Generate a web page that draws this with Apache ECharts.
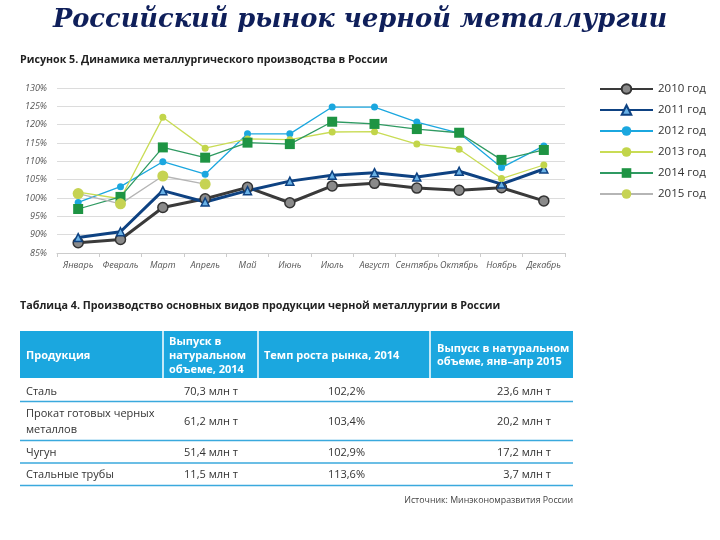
<!DOCTYPE html>
<html><head><meta charset="utf-8">
<script src="https://cdn.jsdelivr.net/npm/echarts@6/dist/echarts.min.js"></script>
<style>html,body{margin:0;padding:0;background:#fff}#c{width:720px;height:540px}</style>
</head><body><div id="c"></div>
<script>
// ---- chart data ----
const months = ['Январь','Февраль','Март','Апрель','Май','Июнь','Июль','Август','Сентябрь','Октябрь','Ноябрь','Декабрь'];
const y2010 = [87.8, 88.7, 97.4, 99.8, 102.9, 98.7, 103.3, 104.0, 102.7, 102.1, 102.8, 99.2];
const y2011 = [89.2, 90.8, 102.0, 98.9, 102.0, 104.6, 106.2, 106.9, 105.7, 107.3, 103.8, 107.9];
const y2012 = [98.8, 103.1, 109.9, 106.5, 117.5, 117.5, 124.8, 124.8, 120.7, 117.7, 108.3, 114.2];
const y2013 = [101.6, 99.8, 122.0, 113.6, 116.1, 115.9, 118.0, 118.1, 114.7, 113.3, 105.3, 109.0];
const y2014 = [97.0, 100.3, 113.8, 111.0, 115.1, 114.7, 120.8, 120.2, 118.8, 117.8, 110.4, 113.1];
const y2015 = [101.2, 98.4, 106.0, 103.8];
const seriesNames = ['2010 год','2011 год','2012 год','2013 год','2014 год','2015 год'];

// ---- table data ----
const tableHeaders = ['Продукция', 'Выпуск в\nнатуральном\nобъеме, 2014', 'Темп роста рынка, 2014', 'Выпуск в натуральном\nобъеме, янв–апр 2015'];
const products = ['Сталь', 'Прокат готовых черных\nметаллов', 'Чугун', 'Стальные трубы'];
const output2014 = ['70,3 млн т', '61,2 млн т', '51,4 млн т', '11,5 млн т'];
const growth2014 = ['102,2%', '103,4%', '102,9%', '113,6%'];
const output2015 = ['23,6 млн т', '20,2 млн т', '17,2 млн т', '3,7 млн т'];

const chart = echarts.init(document.getElementById('c'));
const SANS = '"Open Sans", "Noto Sans", sans-serif';
const blue = '#1ba7df';

// table graphic
const g = [];
const tx = 20, tw = 553, hy = 331, hh = 47;
g.push({type:'rect', shape:{x:tx, y:hy, width:tw, height:hh}, style:{fill:blue}});
[163, 258, 430].forEach(x => g.push({type:'line', shape:{x1:x, y1:hy, x2:x, y2:hy+hh}, style:{stroke:'#fff', lineWidth:1.5}}));
const headerX = [26, 169, 264, 437];
tableHeaders.forEach((t, i) => g.push({type:'text', x:headerX[i], y:hy+hh/2+1, style:{text:t, fill:'#fff', font:'bold 11px ' + SANS, textVerticalAlign:'middle', lineHeight: i===1 ? 14 : 13}}));
const rowY = [392, 422, 453, 475];
const sepY = [401.5, 440.5, 463, 485.5];
sepY.forEach(y => g.push({type:'line', shape:{x1:tx, y1:y, x2:tx+tw, y2:y}, style:{stroke:'#3aa9dd', lineWidth:1.5}}));
const F = '11px ' + SANS;
products.forEach((t, i) => {
  g.push({type:'text', x:26, y:rowY[i], style:{text:t, fill:'#333', font:F, textVerticalAlign:'middle', lineHeight:16}});
  g.push({type:'text', x:238, y:rowY[i], style:{text:output2014[i], fill:'#333', font:F, textAlign:'right', textVerticalAlign:'middle'}});
  g.push({type:'text', x:365, y:rowY[i], style:{text:growth2014[i], fill:'#333', font:F, textAlign:'right', textVerticalAlign:'middle'}});
  g.push({type:'text', x:551, y:rowY[i], style:{text:output2015[i], fill:'#333', font:F, textAlign:'right', textVerticalAlign:'middle'}});
});
g.push({type:'text', x:20, y:306, style:{text:'Таблица 4. Производство основных видов продукции черной металлургии в России', fill:'#222', font:'bold 10.75px ' + SANS, textVerticalAlign:'middle'}});
g.push({type:'text', x:573, y:500, style:{text:'Источник: Минэкономразвития России', fill:'#444', font:'8.8px ' + SANS, textAlign:'right', textVerticalAlign:'middle'}});
g.push({type:'text', x:20, y:60, style:{text:'Рисунок 5. Динамика металлургического производства в России', fill:'#222', font:'bold 10.7px ' + SANS, textVerticalAlign:'middle'}});
g.push({type:'text', x:360, y:20, style:{text:'Российский рынок черной металлургии', fill:'#0f1f5a', font:'italic bold 25.7px "DejaVu Serif", serif', textAlign:'center', textVerticalAlign:'middle'}});

function mk(name, data, color, width, symbol, size, symColor, symBorder, symBorderW) {
  return {
    name, type:'line', data, symbol, symbolSize:size, showSymbol:true,
    lineStyle:{color, width},
    itemStyle:{color:symColor, borderColor:symBorder, borderWidth:symBorderW},
    z: 2
  };
}

chart.setOption({
  animation:false,
  graphic: g,
  grid:{left:57, right:155, top:88, bottom:287},
  legend:{
    orient:'vertical', left:594, top:78, itemWidth:53, itemHeight:12, itemGap:9,
    textStyle:{fontFamily:SANS, fontSize:11.5, color:'#333', padding:[0,0,0,0]},
    data: seriesNames
  },
  xAxis:{
    type:'category', data:months, boundaryGap:true,
    axisLine:{lineStyle:{color:'#ccc'}},
    axisTick:{show:true, lineStyle:{color:'#ccc'}, length:4},
    axisLabel:{fontFamily:SANS, fontStyle:'italic', fontSize:9, color:'#555', margin:8, interval:0}
  },
  yAxis:{
    type:'value', min:85, max:130, interval:5,
    axisLine:{show:false}, axisTick:{show:false},
    splitLine:{lineStyle:{color:'#dcdcdc'}},
    axisLabel:{fontFamily:SANS, fontStyle:'italic', fontSize:9, color:'#555', formatter:'{value}%', margin:10}
  },
  series:[
    mk(seriesNames[0], y2010, '#3a3a3a', 3, 'circle', 10, '#8a8a8a', '#333', 1.5),
    mk(seriesNames[1], y2011, '#0e4282', 3, 'triangle', 8, '#6ab2e6', '#0e4282', 1.5),
    mk(seriesNames[2], y2012, '#1ba7df', 1.3, 'circle', 7, '#1ba7df', '#1ba7df', 0),
    mk(seriesNames[3], y2013, '#c9dc55', 1.3, 'circle', 7, '#c2d54a', '#c2d54a', 0),
    mk(seriesNames[4], y2014, '#2f9a62', 1.3, 'rect', 10, '#1e9443', '#1e9443', 0),
    mk(seriesNames[5], y2015, '#b5b5b5', 1.3, 'circle', 11, '#c6d353', '#c6d353', 0)
  ]
});
</script>
</body></html>
